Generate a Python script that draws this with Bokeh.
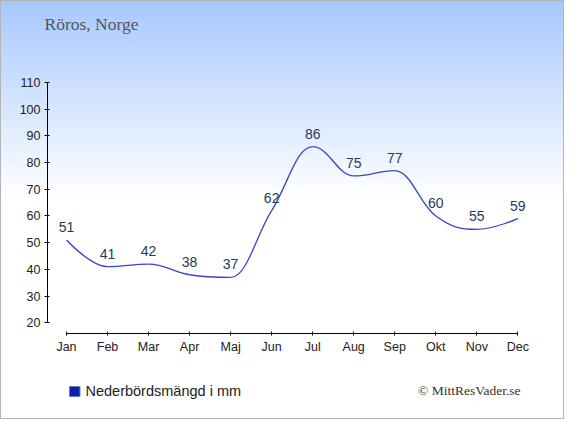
from bokeh.plotting import figure
from bokeh.models import FixedTicker, Label, Range1d
from bokeh.layouts import column
from bokeh.core.properties import value
from bokeh.embed import file_html
from bokeh.resources import INLINE

# ---- data ----
months = ["Jan", "Feb", "Mar", "Apr", "Maj", "Jun", "Jul", "Aug", "Sep", "Okt", "Nov", "Dec"]
precip = [51, 41, 42, 38, 37, 62, 86, 75, 77, 60, 55, 59]
y_ticks = [20, 30, 40, 50, 60, 70, 80, 90, 100, 110]
title_text = "Röros, Norge"
legend_text = "Nederbördsmängd i mm"
credit_text = "© MittResVader.se"

# ---- geometry (pixels) ----
W = 564
TOP_H, MAIN_H, BOT_H = 62, 300, 57
FL, FR = 47, 540
x_start, x_end = -0.4631, 11.5525
y_start, y_end = 15.99, 117.49


def strip(h):
    f = figure(width=W, height=h, output_backend="svg", toolbar_location=None, title=None,
               x_range=Range1d(0, W), y_range=Range1d(0, h), frame_align=False,
               min_border=0, min_border_left=0, min_border_right=0,
               min_border_top=0, min_border_bottom=0,
               x_axis_location=None, y_axis_location=None)
    f.background_fill_alpha = 0
    f.border_fill_alpha = 0
    f.outline_line_color = None
    f.grid.visible = False
    return f


# title strip
top = strip(TOP_H)
top.add_layout(Label(x=44, y=TOP_H - 23, x_units="screen", y_units="screen", text=title_text,
                     text_font="Liberation Serif", text_font_size="17.5px",
                     text_color="#555555", text_baseline="middle"))

# main chart
p = figure(width=W, height=MAIN_H, output_backend="svg", toolbar_location=None, title=None,
           x_range=Range1d(x_start, x_end), y_range=Range1d(y_start, y_end), frame_align=False,
           min_border_left=FL, min_border_right=W - FR, min_border_top=0,
           min_border_bottom=29)
p.background_fill_alpha = 0
p.border_fill_alpha = 0
p.outline_line_color = None
p.grid.visible = False

xs = list(range(len(months)))

for ax in (p.xaxis, p.yaxis):
    ax.axis_line_color = "black"
    ax.major_tick_line_color = "black"
    ax.minor_tick_line_color = None
    ax.major_label_text_font = "Liberation Sans"
    ax.major_label_text_font_size = "12.5px"
    ax.major_label_text_color = "#222222"
p.xaxis.ticker = FixedTicker(ticks=xs)
p.xaxis.major_label_overrides = {i: m for i, m in enumerate(months)}
p.xaxis.bounds = (xs[0], xs[-1])
p.xaxis.major_tick_in = 2
p.xaxis.major_tick_out = 2
p.xaxis.major_label_standoff = 4
p.yaxis.ticker = FixedTicker(ticks=y_ticks)
p.yaxis.bounds = (y_ticks[0], y_ticks[-1])
p.yaxis.major_tick_in = 2
p.yaxis.major_tick_out = 3
p.yaxis.major_label_standoff = 4


def spline(xv, yv, s=1.5):
    n = len(xv)
    rc = [(xv[i], yv[i]) for i in range(n)]
    lc = [(xv[i], yv[i]) for i in range(n)]
    for i in range(1, n - 1):
        px, py = xv[i], yv[i]
        lx, ly = xv[i - 1], yv[i - 1]
        nx, ny = xv[i + 1], yv[i + 1]
        lcx = (s * px + lx) / (s + 1)
        lcy = (s * py + ly) / (s + 1)
        rcx = (s * px + nx) / (s + 1)
        rcy = (s * py + ny) / (s + 1)
        if rcx != lcx:
            corr = ((rcy - lcy) * (rcx - px)) / (rcx - lcx) + py - rcy
            lcy += corr
            rcy += corr
        if lcy > ly and lcy > py:
            lcy = max(ly, py)
            rcy = 2 * py - lcy
        elif lcy < ly and lcy < py:
            lcy = min(ly, py)
            rcy = 2 * py - lcy
        if rcy > ny and rcy > py:
            rcy = max(ny, py)
            lcy = 2 * py - rcy
        elif rcy < ny and rcy < py:
            rcy = min(ny, py)
            lcy = 2 * py - rcy
        lc[i] = (lcx, lcy)
        rc[i] = (rcx, rcy)
    seg = dict(x0=[], y0=[], x1=[], y1=[], cx0=[], cy0=[], cx1=[], cy1=[])
    for i in range(1, n):
        seg["x0"].append(xv[i - 1]); seg["y0"].append(yv[i - 1])
        seg["x1"].append(xv[i]); seg["y1"].append(yv[i])
        seg["cx0"].append(rc[i - 1][0]); seg["cy0"].append(rc[i - 1][1])
        seg["cx1"].append(lc[i][0]); seg["cy1"].append(lc[i][1])
    return seg


seg = spline(xs, precip)
p.bezier(x0="x0", y0="y0", x1="x1", y1="y1", cx0="cx0", cy0="cy0", cx1="cx1", cy1="cy1",
         source=seg, line_color="#3a44c8", line_width=1.3)

p.text(x=xs, y=precip, text=[str(v) for v in precip], text_align="center",
       text_baseline="middle", y_offset=-13, text_font=value("Liberation Sans"),
       text_font_size="14px", text_color="#27385a")

# legend + credit strip
bot = strip(BOT_H)
bot.quad(left=[69], right=[79.5], top=[BOT_H - (386 - 362)], bottom=[BOT_H - (396 - 362)],
         fill_color="#1020a8", line_color="#6c78c8", line_width=1)
bot.add_layout(Label(x=85, y=BOT_H - (390 - 362), x_units="screen", y_units="screen",
                     text=legend_text, text_font="Liberation Sans", text_font_size="14.5px",
                     text_color="#222222", text_baseline="middle"))
bot.add_layout(Label(x=520, y=BOT_H - (390 - 362), x_units="screen", y_units="screen",
                     text=credit_text, text_font="Liberation Serif", text_font_size="13.5px",
                     text_color="#333333", text_align="right", text_baseline="middle"))

layout = column(top, p, bot, spacing=0)
layout.styles = {
    "background-image": "linear-gradient(to bottom, #a6c8fe 0%, #ffffff 47%, #ffffff 100%)",
    "outline": "1px solid #b4b4b4",
    "outline-offset": "-1px",
}

open("out.html", "w").write(file_html(layout, INLINE))
